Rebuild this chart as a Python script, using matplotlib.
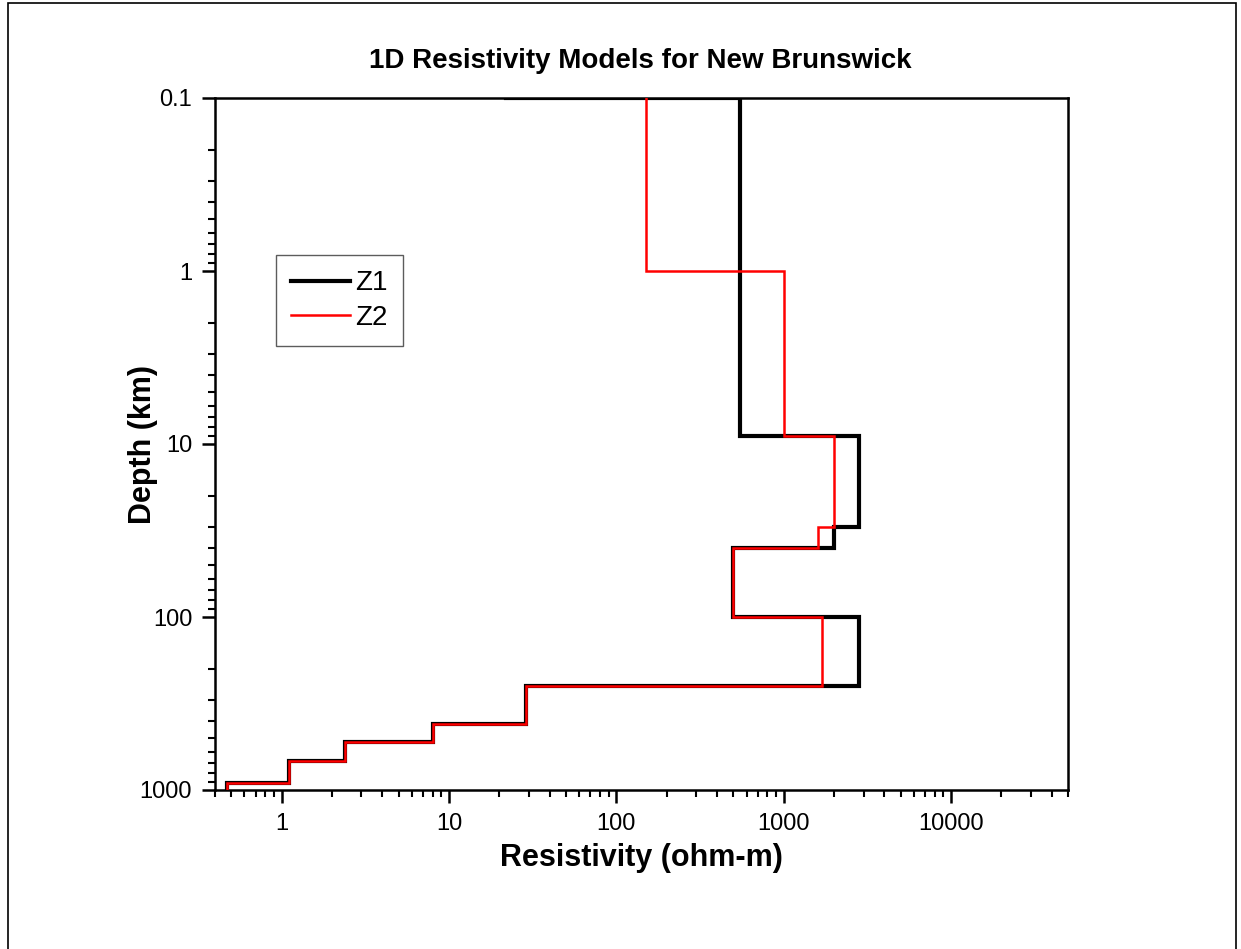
import numpy as np
import matplotlib
matplotlib.use('Agg')
import matplotlib.pyplot as plt
from matplotlib.patches import Rectangle
from matplotlib.ticker import LogLocator, FixedLocator, FixedFormatter, NullFormatter

plt.rcParams['font.family'] = ['Liberation Sans', 'DejaVu Sans']

# layer models: resistivity (ohm-m) per layer, layer boundaries (km)
z1_res = [22, 550, 2800, 2000, 500, 2800, 29, 8, 2.4, 1.1, 0.47]
z1_bounds = [0.01, 0.1, 9, 30, 40, 100, 250, 414, 525, 680, 906, 1000]
z2_res = [150, 1000, 2000, 1600, 500, 1700, 29, 8, 2.4, 1.1, 0.47]
z2_bounds = [0.1, 1, 9, 30, 40, 100, 250, 414, 525, 680, 906, 1000]

x_ticks = [1, 10, 100, 1000, 10000]
x_labels = ['1', '10', '100', '1000', '10000']
y_ticks = [0.1, 1, 10, 100, 1000]
y_labels = ['0.1', '1', '10', '100', '1000']

def steps(res, bounds):
    return np.repeat(res, 2), np.repeat(bounds, 2)[1:-1]

fig = plt.figure(figsize=(12.41, 9.49), dpi=100)
ax = fig.add_axes([215/1241, 1-790/949, 853/1241, 692/949])

x1, y1 = steps(z1_res, z1_bounds); x2, y2 = steps(z2_res, z2_bounds)
ax.plot(x1, y1, c='k', lw=3.0, label='Z1', solid_joinstyle='miter', zorder=3)
ax.plot(x2, y2, c='#ff0000', lw=1.8, label='Z2', solid_joinstyle='miter', zorder=4)

ax.set_xscale('log'); ax.set_yscale('log')
ax.set_xlim(0.4, 50000); ax.set_ylim(1000, 0.1)
ax.xaxis.set_major_locator(FixedLocator(x_ticks)); ax.xaxis.set_major_formatter(FixedFormatter(x_labels))
ax.yaxis.set_major_locator(FixedLocator(y_ticks)); ax.yaxis.set_major_formatter(FixedFormatter(y_labels))
ax.xaxis.set_minor_locator(LogLocator(base=10, subs=np.arange(2, 10), numticks=20)); ax.xaxis.set_minor_formatter(NullFormatter())
ax.yaxis.set_minor_locator(LogLocator(base=10, subs=np.arange(2, 10), numticks=20)); ax.yaxis.set_minor_formatter(NullFormatter())
ax.tick_params(which='major', direction='out', length=9.4, width=1.8, labelsize=17, pad=7)
ax.tick_params(which='minor', direction='out', length=5, width=1.5)
for s in ax.spines.values():
    s.set_linewidth(1.8)

ax.set_xlabel('Resistivity (ohm-m)', fontsize=22, fontweight='bold', labelpad=6)
ax.set_ylabel('Depth (km)', fontsize=22, fontweight='bold')
ax.yaxis.set_label_coords(-0.067, 0.5)
fig.text(0.5157, 1-61/949, '1D Resistivity Models for New Brunswick', fontsize=20, fontweight='bold', ha='center', va='center')

leg = ax.legend(loc='upper left', bbox_to_anchor=(0.0715, 0.773), borderaxespad=0, fontsize=20, fancybox=False,
                handlelength=2.1, handletextpad=0.2, borderpad=0.55, labelspacing=0.3)
leg.get_frame().set_edgecolor('#333333'); leg.get_frame().set_linewidth(1.0)

fig.patches.append(Rectangle((8/1241, -0.01), 1228/1241, 1.01-3/949, transform=fig.transFigure, fill=False, ec='k', lw=1.2))
fig.savefig('out.png', dpi=100)
